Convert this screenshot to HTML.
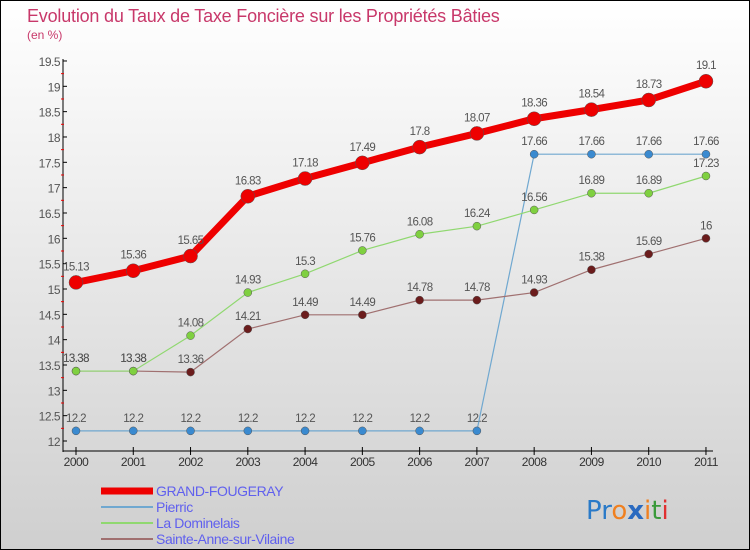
<!DOCTYPE html>
<html><head><meta charset="utf-8"><style>
body{margin:0}
#c{width:750px;height:550px;position:relative;box-sizing:border-box;border:1px solid #000;background:linear-gradient(#ffffff,#cfcfcf);font-family:"Liberation Sans",sans-serif;overflow:hidden}
svg{position:absolute;left:0;top:0}
</style></head><body>
<div id="c">
<svg id="s" width="750" height="550">
<text x="26" y="21" font-size="18" fill="#c8386a" letter-spacing="-0.2">Evolution du Taux de Taxe Foncière sur les Propriétés Bâties</text>
<text x="26" y="38" font-size="12" fill="#c8386a">(en %)</text>
<text x="585" y="518" font-size="26" font-family="'DejaVu Sans',sans-serif"><tspan fill="#2a7ac8">Pr</tspan><tspan fill="#f08020">o</tspan><tspan fill="#2a6ac0" font-weight="bold">x</tspan><tspan fill="#f08020">i</tspan><tspan fill="#3a9a3a">t</tspan><tspan fill="#e03030">i</tspan></text>
</svg>
</div>
<script>
const years=["2000","2001","2002","2003","2004","2005","2006","2007","2008","2009","2010","2011"];
const yTicks=[12,12.5,13,13.5,14,14.5,15,15.5,16,16.5,17,17.5,18,18.5,19,19.5];
const grand=[15.13,15.36,15.65,16.83,17.18,17.49,17.8,18.07,18.36,18.54,18.73,19.1];
const pierric=[12.2,12.2,12.2,12.2,12.2,12.2,12.2,12.2,17.66,17.66,17.66,17.66];
const domin=[13.38,13.38,14.08,14.93,15.3,15.76,16.08,16.24,16.56,16.89,16.89,17.23];
const sainte=[13.38,13.38,13.36,14.21,14.49,14.49,14.78,14.78,14.93,15.38,15.69,16];
const names=["GRAND-FOUGERAY","Pierric","La Dominelais","Sainte-Anne-sur-Vilaine"];
const NS="http://www.w3.org/2000/svg",s=document.getElementById('s');
const X=i=>75+i*57.27, Y=v=>440-(v-12)*50.67;
function mk(t,a,p){const e=document.createElementNS(NS,t);for(const k in a)e.setAttribute(k,a[k]);(p||s).appendChild(e);return e;}
let e=mk('line',{x1:62,y1:58,x2:62,y2:451,stroke:'#000'});


e=mk('line',{x1:62,y1:450,x2:712,y2:450,stroke:'#000'});


yTicks.forEach((v,i)=>{const y=Y(v);mk('line',{x1:62,y1:y,x2:66,y2:y,stroke:'#000'});
 if(i<yTicks.length-1)mk('line',{x1:60,y1:Y(v+0.25),x2:63,y2:Y(v+0.25),stroke:'#e00'});
 const t=mk('text',{x:59,y:y+5,'text-anchor':'end','font-size':12,fill:'#555','letter-spacing':'-0.5'});t.textContent=v;
 
 });
years.forEach((yr,i)=>{mk('line',{x1:X(i),y1:446,x2:X(i),y2:454,stroke:'#000'});
 const t=mk('text',{x:X(i),y:465,'text-anchor':'middle','font-size':12,fill:'#333','letter-spacing':'-0.5'});t.textContent=yr;
 
 });
const series=[[sainte,'#6b1c1c','#a07070',1.2,4],[domin,'#7fd040','#90d870',1.2,4],[pierric,'#3a8ad0','#70a8d0',1.2,4],[grand,'#ee0000','#ee0000',7,7]];
const order=[series[2],series[0],series[1],series[3]];
order.forEach(([d,c,lc,w,r])=>{
 const g=mk('g',{});
 
 
 mk('polyline',{points:d.map((v,i)=>X(i)+','+Y(v)).join(' '),fill:'none',stroke:lc,'stroke-width':w},g);
 d.forEach((v,i)=>{const p=mk('circle',{cx:X(i),cy:Y(v),r:r,fill:c,stroke:'#555','stroke-width':0.5},g);
  
  
  const t=mk('text',{x:X(i),y:Y(v)-(w>3?12:9),'text-anchor':'middle','font-size':11.5,fill:'#555','letter-spacing':'-0.6'},g);t.textContent=v;
  
  });
});
const lc=['#ee0000','#70a8d0','#90d870','#a07070'],lw=[7,2,2,2];
names.forEach((n,i)=>{const y=490+i*16;
 const g=mk('g',{});
 
 
 mk('line',{x1:100,y1:y,x2:152,y2:y,stroke:lc[i],'stroke-width':lw[i]},g);
 const t=mk('text',{x:155,y:y+5,'font-size':14,fill:'#6060ee','letter-spacing':'-0.4'},g);t.textContent=n;});
</script>
</body></html>
